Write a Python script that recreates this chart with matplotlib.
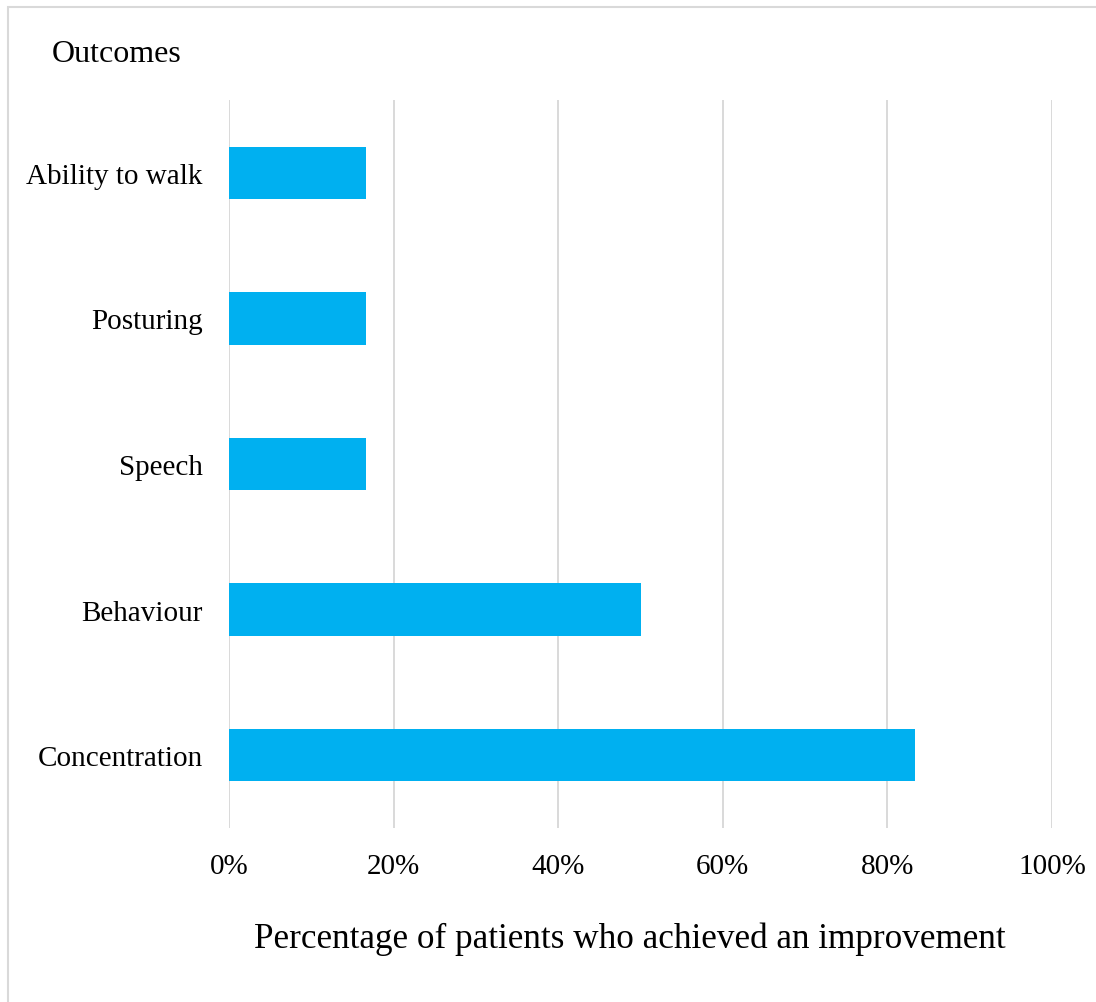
import numpy as np
import matplotlib.pyplot as plt
from matplotlib.patches import Rectangle
from matplotlib.ticker import PercentFormatter

outcomes = ["Ability to walk", "Posturing", "Speech", "Behaviour", "Concentration"]
pct_improved = [16.7, 16.7, 16.7, 50.0, 83.3]
x_ticks = [0, 20, 40, 60, 80, 100]

BAR_COLOR = "#00B0F0"
GRID_COLOR = "#D9D9D9"
plt.rcParams["font.family"] = ["Liberation Serif", "DejaVu Serif"]

fig = plt.figure(figsize=(10.96, 10.03), dpi=100)
ax = fig.add_axes([0.2089, 0.1735, 0.751, 0.7258])

y = np.arange(len(outcomes))
ax.barh(y, pct_improved, height=0.36, color=BAR_COLOR, zorder=3)
ax.set_yticks(y)
ax.set_yticklabels(outcomes, fontsize=21)
ax.set_ylim(len(outcomes) - 0.5, -0.5)

ax.set_xlim(0, 100)
ax.set_xticks(x_ticks)
ax.xaxis.set_major_formatter(PercentFormatter(decimals=0))
ax.tick_params(axis="x", labelsize=21, pad=18, length=0)
ax.tick_params(axis="y", pad=19, length=0)
ax.grid(axis="x", color=GRID_COLOR, linewidth=1.4, zorder=0)
for s in ax.spines.values():
    s.set_visible(False)

ax.set_xlabel("Percentage of patients who achieved an improvement", fontsize=25.3)
ax.xaxis.set_label_coords(0.487, -0.129)

fig.text(52 / 1096, 1 - 55 / 1003, "Outcomes", fontsize=23, va="center", ha="left")

# light frame around the whole chart
fig.patches.append(Rectangle((8 / 1096, -0.01), 1.02, 1 - 8 / 1003 + 0.01,
                             transform=fig.transFigure, fill=False,
                             edgecolor="#D9D9D9", linewidth=1.5))

fig.savefig("out.png", dpi=100, facecolor="white")
